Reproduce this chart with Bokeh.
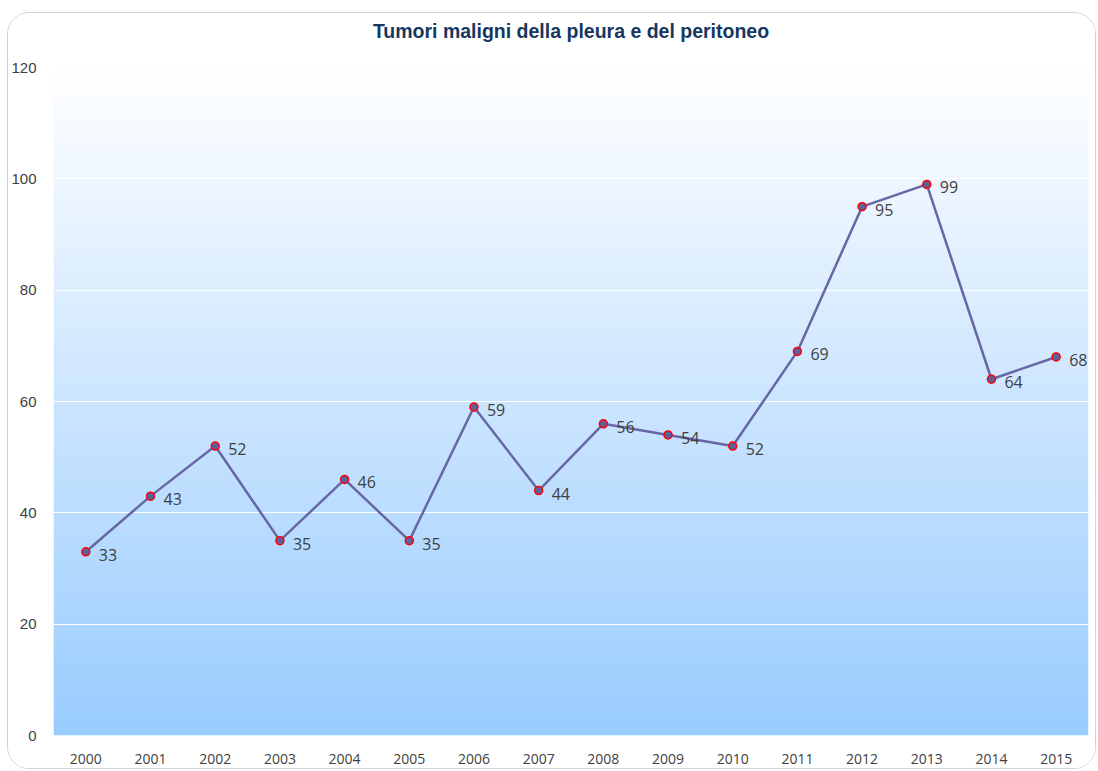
import numpy as np
from bokeh.plotting import figure
from bokeh.models import FixedTicker, ColumnDataSource, Range1d, LinearAxis
from bokeh.core.properties import value
from bokeh.embed import file_html
from bokeh.resources import INLINE

years = ["2000", "2001", "2002", "2003", "2004", "2005", "2006", "2007",
         "2008", "2009", "2010", "2011", "2012", "2013", "2014", "2015"]
cases = [33, 43, 52, 35, 46, 35, 59, 44, 56, 54, 52, 69, 95, 99, 64, 68]
y_ticks = [0, 20, 40, 60, 80, 100, 120]
title_text = "Tumori maligni della pleura e del peritoneo"

idx = list(range(len(years)))
src = ColumnDataSource(dict(x=idx, y=cases, label=[str(v) for v in cases]))

p = figure(title=None, width=1089, height=757, output_backend="svg", toolbar_location=None,
           x_range=Range1d(-0.5, len(years) - 0.5), y_range=Range1d(0, 120),
           min_border_left=42, min_border_right=9, min_border_top=54, min_border_bottom=35)
p.styles = {"border": "1px solid #d4d4d4", "border-radius": "22px", "overflow": "hidden",
            "margin-left": "7px", "margin-top": "12px"}
p.outline_line_color = None
p.background_fill_color = "white"
p.border_fill_color = "white"

# gradient background (white at top to light blue at bottom)
n = 256
t = np.linspace(0, 1, n)  # 0 bottom, 1 top
top = np.array([255, 255, 255])
bot = np.array([153, 204, 255])
cols = (bot[None, :] * (1 - t[:, None]) + top[None, :] * t[:, None]).astype(np.uint32)
img = np.empty((n, 1), dtype=np.uint32)
view = img.view(dtype=np.uint8).reshape((n, 1, 4))
view[:, 0, 0] = cols[:, 0]
view[:, 0, 1] = cols[:, 1]
view[:, 0, 2] = cols[:, 2]
view[:, 0, 3] = 255
r_img = p.image_rgba(image=[img], x=-0.5, y=0, dw=len(years), dh=120)
r_img.level = "image"

# chart title drawn as the label of an invisible axis above the frame
title_axis = LinearAxis(ticker=FixedTicker(ticks=[]),
                        axis_label=title_text, axis_label_standoff=26,
                        axis_label_text_font="Liberation Sans",
                        axis_label_text_font_size="19.5px",
                        axis_label_text_font_style="bold",
                        axis_label_text_color="#17375E",
                        axis_line_color=None, major_tick_line_color=None,
                        minor_tick_line_color=None, major_tick_out=0, major_tick_in=0,
                        minor_tick_out=0, minor_tick_in=0, major_label_standoff=0)
p.add_layout(title_axis, "above")

p.xgrid.grid_line_color = None
p.ygrid.grid_line_color = "white"
p.ygrid.grid_line_width = 1
p.ygrid.ticker = FixedTicker(ticks=y_ticks)

xax = p.below[0]
xax.ticker = FixedTicker(ticks=idx)
xax.major_label_overrides = {i: y for i, y in zip(idx, years)}
xax.axis_line_color = None
xax.major_tick_line_color = None
xax.minor_tick_line_color = None
xax.major_label_text_font = "Open Sans"
xax.major_label_text_font_size = "14px"
xax.major_label_text_color = "#404040"
xax.major_label_standoff = 12

p.yaxis.ticker = FixedTicker(ticks=y_ticks)
p.yaxis.axis_line_color = None
p.yaxis.major_tick_line_color = None
p.yaxis.minor_tick_line_color = None
p.yaxis.major_label_text_font = "Liberation Sans"
p.yaxis.major_label_text_font_size = "15px"
p.yaxis.major_label_text_color = "#404040"
p.yaxis.major_label_standoff = 11

p.line("x", "y", source=src, line_color="#6767A6", line_width=2.5)
p.scatter("x", "y", source=src, size=8, fill_color="#5F5F9F", line_color="#FF0000", line_width=1.5)
p.text("x", "y", text="label", source=src, x_offset=13, y_offset=3,
       text_baseline="middle", text_align="left", text_font=value("Open Sans"),
       text_font_size="16px", text_color="#404040")

open("out.html", "w").write(file_html(p, INLINE))
